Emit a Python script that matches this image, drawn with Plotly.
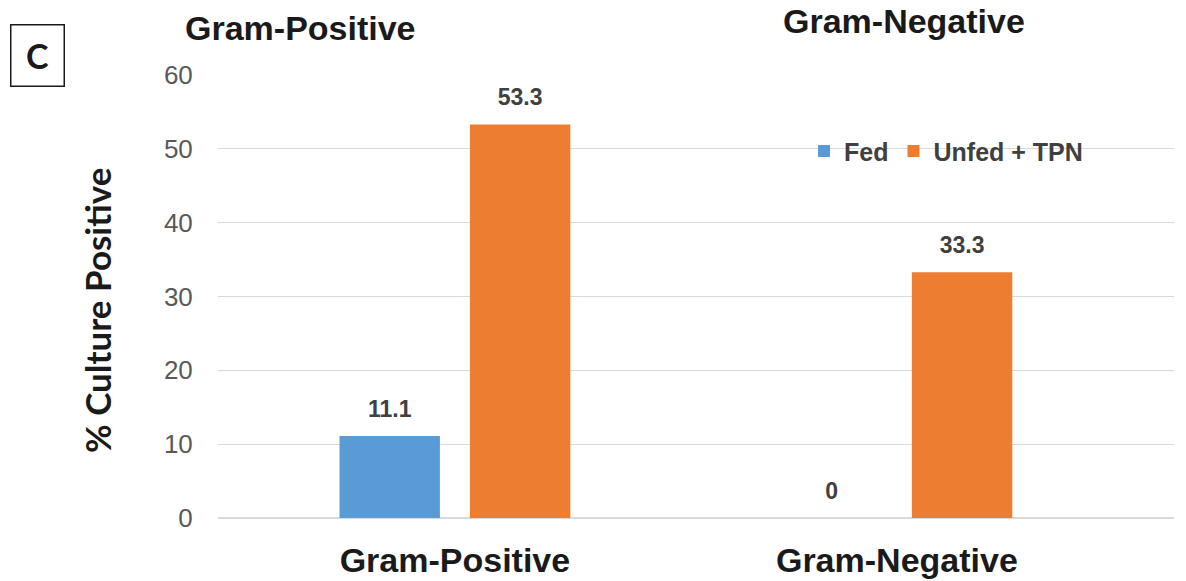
import plotly.graph_objects as go

categories = ["Gram-Positive", "Gram-Negative"]
fed = [11.1, 0]
unfed_tpn = [53.3, 33.3]
series_names = ["Fed", "Unfed + TPN"]
y_ticks = [0, 10, 20, 30, 40, 50, 60]

BLUE = "#5B9BD5"
ORANGE = "#ED7D31"
SANS = "Liberation Sans, Arial, sans-serif"

fig = go.Figure()
for i, (name, vals, color) in enumerate([(series_names[0], fed, BLUE),
                                         (series_names[1], unfed_tpn, ORANGE)]):
    fig.add_trace(go.Bar(
        x=categories, y=vals, name=name,
        marker=dict(color=color, line=dict(width=0)),
        offsetgroup=str(i), alignmentgroup="a",
    ))
    # value labels floated above each bar (invisible marker sets the gap)
    fig.add_trace(go.Scatter(
        x=categories, y=vals, mode="markers+text",
        text=[f"{v:g}" for v in vals], textposition="top center",
        textfont=dict(family=SANS, size=23, color="#404040", weight="bold"),
        marker=dict(size=20, opacity=0),
        offsetgroup=str(i), alignmentgroup="a",
        showlegend=False, hoverinfo="skip", cliponaxis=False,
    ))

fig.update_layout(
    width=1186, height=581,
    margin=dict(l=218, r=12, t=75, b=63),
    paper_bgcolor="white", plot_bgcolor="white",
    barmode="group", bargap=0.41, bargroupgap=0.23,
    scattermode="group", scattergap=0.41,
    font=dict(family=SANS),
    legend=dict(
        orientation="h", x=0.613, y=0.828, xanchor="left", yanchor="middle",
        font=dict(size=25, color="#404040", family=SANS, weight="bold"),
        bgcolor="rgba(0,0,0,0)", itemwidth=30, traceorder="normal",
    ),
    xaxis=dict(
        range=[-0.536, 1.627], automargin=False,
        tickfont=dict(size=34, color="#1a1a1a", family=SANS, weight="bold"),
        showline=False, ticks="outside", ticklen=12, tickcolor="rgba(0,0,0,0)",
        showgrid=False,
    ),
    yaxis=dict(
        range=[0, 60], tickvals=y_ticks, automargin=False,
        tickfont=dict(size=26, color="#595959", family=SANS),
        gridcolor="#D9D9D9", gridwidth=1, zeroline=True, zerolinecolor="#D9D9D9",
        showline=False, ticks="outside", ticklen=19, tickcolor="rgba(0,0,0,0)",
    ),
    showlegend=True,
)

# Y-axis title
fig.add_annotation(text="% Culture Positive", xref="paper", yref="paper",
                   x=(97 - 218) / 956, y=(518 - 310) / 443, showarrow=False,
                   textangle=-90, xanchor="center", yanchor="middle",
                   font=dict(size=35, color="#1a1a1a", family="Lato, sans-serif", weight="bold"))

# Panel headers and panel letter
fig.add_annotation(text="Gram-Positive", xref="paper", yref="paper",
                   x=(300 - 218) / 956, y=1.0 + (75 - 28) / 443, showarrow=False,
                   font=dict(size=34, color="#1a1a1a", weight="bold"),
                   xanchor="center", yanchor="middle")
fig.add_annotation(text="Gram-Negative", xref="paper", yref="paper",
                   x=(904 - 218) / 956, y=1.0 + (75 - 21) / 443, showarrow=False,
                   font=dict(size=34, color="#1a1a1a", weight="bold"),
                   xanchor="center", yanchor="middle")
fig.add_annotation(text="C", xref="paper", yref="paper",
                   x=(37 - 218) / 956, y=1.0 + (75 - 56) / 443, showarrow=False,
                   font=dict(size=34, color="#1a1a1a", family="Lato, sans-serif", weight="bold"),
                   xanchor="center", yanchor="middle",
                   width=48, height=56, bordercolor="#1a1a1a", borderwidth=1.5, borderpad=2)

fig.write_html("out.html")
